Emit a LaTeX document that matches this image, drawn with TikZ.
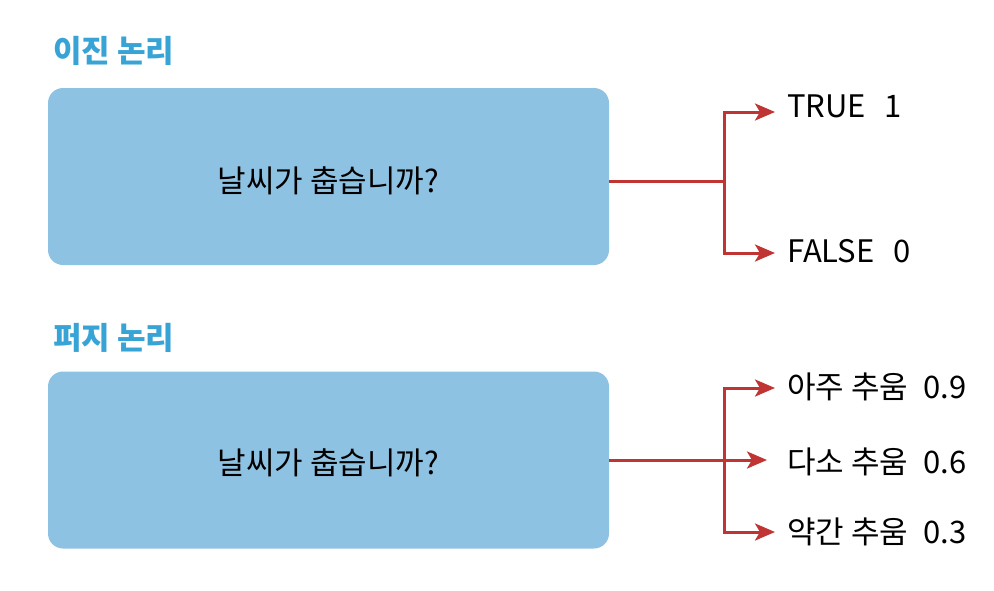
\documentclass[tikz,border=0pt]{standalone}
\usepackage{fontspec}
\setmainfont{Noto Sans CJK KR}
\usetikzlibrary{arrows.meta}
\definecolor{boxblue}{RGB}{142,194,227}
\definecolor{titleblue}{RGB}{56,164,214}
\definecolor{linered}{RGB}{192,52,52}
\tikzset{
  box/.style={fill=boxblue, rounded corners=15pt, minimum width=561pt, minimum height=177pt, inner sep=0pt},
  boxtext/.style={font=\fontsize{31}{36}\selectfont, anchor=base, inner sep=0pt},
  title/.style={font=\fontsize{31}{36}\selectfont\bfseries, text=titleblue, anchor=base west, inner sep=0pt},
  lab/.style={font=\fontsize{31}{36}\selectfont, anchor=base west, inner sep=0pt},
  conn/.style={draw=linered, line width=3pt},
  arr/.style={conn, -{Stealth[length=20pt,width=17pt,inset=5pt]}}
}
\begin{document}
\begin{tikzpicture}[x=1pt,y=-1pt]
\useasboundingbox (0,0) rectangle (994,590);
% binary logic
\node[title] (t1) at (53,62) {이진 논리};
\node[box] (b1) at (328.5,176.5) {};
\node[boxtext] (q1) at (328.5,192) {날씨가 춥습니까?};
\node[lab] (r1) at (787,117) {TRUE\hspace{0.6em}1};
\node[lab] (r2) at (787,262) {FALSE\hspace{0.6em}0};
\coordinate (j1) at (724,181);
\coordinate (a1) at (775,112);
\coordinate (a2) at (775,253);
\draw[conn] (b1.east |- j1) -- (j1);
\draw[arr] (j1) |- (a1);
\draw[arr] (j1) |- (a2);
% fuzzy logic
\node[title] (t2) at (53,349) {퍼지 논리};
\node[box] (b2) at (328.5,460) {};
\node[boxtext] (q2) at (328.5,474) {날씨가 춥습니까?};
\node[lab] (s1) at (787,398) {아주 추움\hspace{0.5em}0.9};
\node[lab] (s2) at (787,473) {다소 추움\hspace{0.5em}0.6};
\node[lab] (s3) at (787,543) {약간 추움\hspace{0.5em}0.3};
\coordinate (j2) at (724,460);
\coordinate (c1) at (775,388);
\coordinate (c2) at (767,460);
\coordinate (c3) at (775,532);
\draw[arr] (b2.east |- j2) -- (c2);
\draw[arr] (j2) |- (c1);
\draw[arr] (j2) |- (c3);
\end{tikzpicture}
\end{document}
